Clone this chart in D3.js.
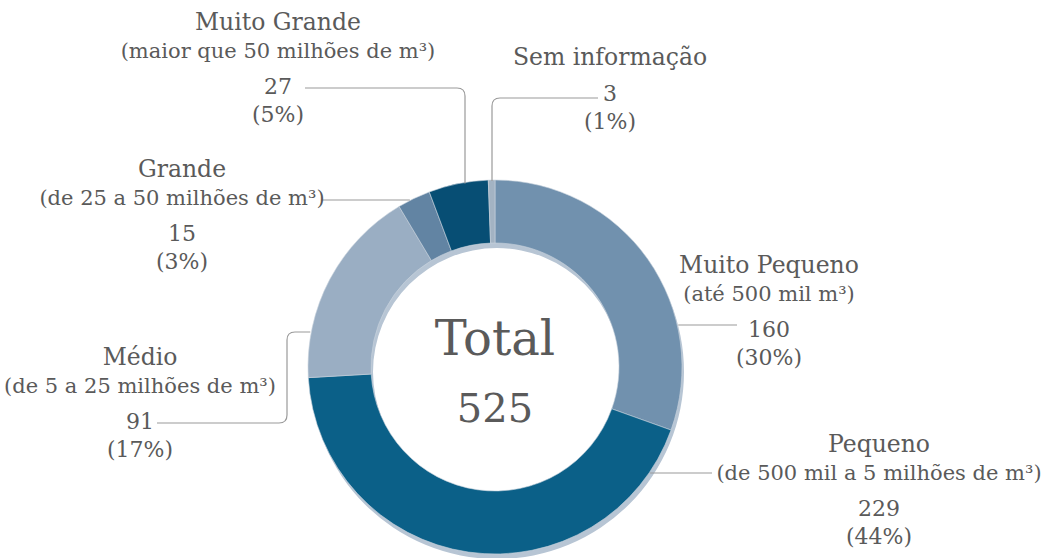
<!DOCTYPE html>
<html>
<head>
<meta charset="utf-8">
<script src="https://cdn.jsdelivr.net/npm/d3@7"></script>
<style>
  html, body { margin: 0; padding: 0; background: #fff; }
  svg { display: block; }
</style>
</head>
<body>
<div id="chart"></div>
<script>
const categories = ["Muito Pequeno", "Pequeno", "Médio", "Grande", "Muito Grande", "Sem informação"];
const subtitles = ["(até 500 mil m³)", "(de 500 mil a 5 milhões de m³)", "(de 5 a 25 milhões de m³)", "(de 25 a 50 milhões de m³)", "(maior que 50 milhões de m³)", null];
const counts = [160, 229, 91, 15, 27, 3];
const percents = ["30%", "44%", "17%", "3%", "5%", "1%"];
const total = 525;

const colors = ["#7191ae", "#0b6088", "#9aaec3", "#6284a3", "#074e74", "#a3b3c3"];

// where each label block sits and how its leader line runs
const layout = [
  { x: 769, y: 273, line: { kind: "h", y: 325, x0: 737 } },
  { x: 879, y: 452, line: { kind: "h", y: 473, x0: 712 } },
  { x: 140, y: 365, line: { kind: "elbow", y0: 423, x0: 157, xc: 287, y: 332 } },
  { x: 182, y: 177, line: { kind: "h", y: 200, x0: 322 } },
  { x: 278, y: 30, line: { kind: "down", y0: 88, x0: 305, x: 465 } },
  { x: 610, y: 65, line: { kind: "down", y0: 98, x0: 598, x: 492 } }
];

const width = 1043, height = 558;
const cx = 495, cy = 367, outerR = 187, innerR = 124;
const textColor = "#5a5a5a";
const font = "'DejaVu Serif', serif";

const svg = d3.select("#chart").append("svg")
  .attr("width", width)
  .attr("height", height)
  .style("font-family", font);

const pie = d3.pie().sort(null).value(d => d)(counts);
const arc = d3.arc().innerRadius(innerR).outerRadius(outerR);

const g = svg.append("g").attr("transform", `translate(${cx},${cy})`);

// soft shadow under the ring
g.append("path")
  .attr("d", d3.arc().innerRadius(innerR).outerRadius(outerR).startAngle(0).endAngle(2 * Math.PI)())
  .attr("transform", "translate(2,5)")
  .attr("fill", "#b7c5d4");

g.selectAll("path.slice")
  .data(pie)
  .join("path")
  .attr("class", "slice")
  .attr("d", arc)
  .attr("fill", (d, i) => colors[i])
  .attr("stroke", "#c9d3dd")
  .attr("stroke-width", 0.6);

// center text
svg.append("text")
  .attr("x", cx).attr("y", 355)
  .attr("text-anchor", "middle")
  .attr("font-size", 48)
  .attr("fill", textColor)
  .text("Total");
svg.append("text")
  .attr("x", cx).attr("y", 422)
  .attr("text-anchor", "middle")
  .attr("font-size", 40)
  .attr("fill", textColor)
  .text(total);

// leader lines
const edgeX = (y, side) => cx + side * Math.sqrt(outerR * outerR - (y - cy) * (y - cy));
const edgeY = x => cy - Math.sqrt(outerR * outerR - (x - cx) * (x - cx));
const r = 8;

layout.forEach((l, i) => {
  const L = l.line;
  const p = d3.path();
  if (L.kind === "h") {
    const side = L.x0 > cx ? 1 : -1;
    p.moveTo(L.x0, L.y);
    p.lineTo(edgeX(L.y, side) + side * 1, L.y);
  } else if (L.kind === "elbow") {
    p.moveTo(L.x0, L.y0);
    p.lineTo(L.xc - r, L.y0);
    p.quadraticCurveTo(L.xc, L.y0, L.xc, L.y0 - r);
    p.lineTo(L.xc, L.y + r);
    p.quadraticCurveTo(L.xc, L.y, L.xc + r, L.y);
    p.lineTo(edgeX(L.y, -1) - 1, L.y);
  } else {
    const dir = L.x > L.x0 ? 1 : -1;
    p.moveTo(L.x0, L.y0);
    p.lineTo(L.x - dir * r, L.y0);
    p.quadraticCurveTo(L.x, L.y0, L.x, L.y0 + r);
    p.lineTo(L.x, edgeY(L.x) + 1);
  }
  svg.append("path")
    .attr("d", p.toString())
    .attr("fill", "none")
    .attr("stroke", "#9a9a9a")
    .attr("stroke-width", 1.2);
});

// label blocks
layout.forEach((l, i) => {
  const t = svg.append("text")
    .attr("text-anchor", "middle")
    .attr("font-size", 23.5)
    .attr("fill", textColor);
  let y = l.y;
  t.append("tspan").attr("x", l.x).attr("y", y).text(categories[i]);
  y += 28;
  if (subtitles[i]) {
    t.append("tspan").attr("x", l.x).attr("y", y).attr("font-size", 21).text(subtitles[i]);
    y += 28;
  }
  y += 8;
  t.append("tspan").attr("x", l.x).attr("y", y).attr("font-size", 22).text(counts[i]);
  t.append("tspan").attr("x", l.x).attr("y", y + 28).attr("font-size", 22).text(`(${percents[i]})`);
});
</script>
</body>
</html>
